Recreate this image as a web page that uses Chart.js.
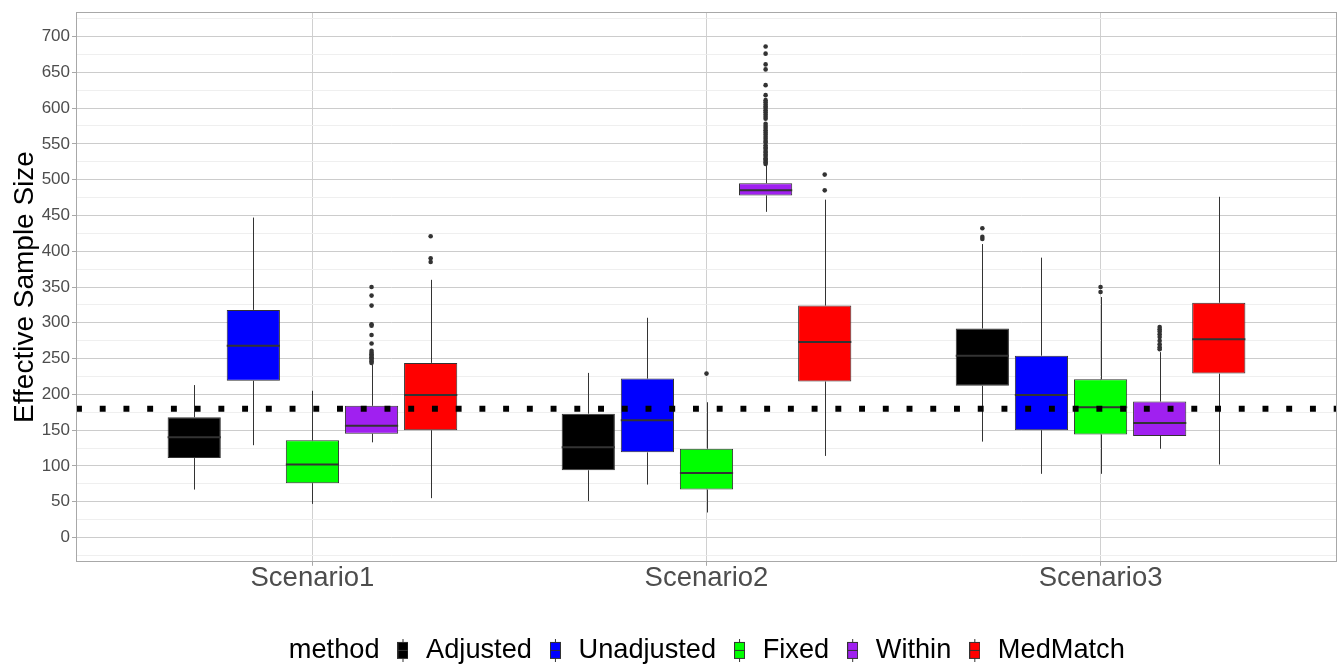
<!DOCTYPE html>
<html>
<head>
<meta charset="utf-8">
<script src="https://cdn.jsdelivr.net/npm/chart.js@4.4.1/dist/chart.umd.min.js"></script>
<style>
  html, body { margin: 0; padding: 0; background: #fff; }
</style>
</head>
<body>
<canvas id="chart" width="1343" height="666"></canvas>
<script>
// categories and methods
var scenarios = ['Scenario1', 'Scenario2', 'Scenario3'];
var methods = ['Adjusted', 'Unadjusted', 'Fixed', 'Within', 'MedMatch'];
var methodColors = ['#000000', '#0000ff', '#00ff00', '#a020f0', '#ff0000'];

// box stats per scenario: [lower whisker, q1, median, q3, upper whisker]
var adjusted   = [[67, 111, 140, 168, 213], [51, 94, 126, 173, 230], [134, 212, 254, 292, 410]];
var unadjusted = [[129, 219, 268, 318, 447], [74, 119, 164, 222, 307], [89, 150, 199, 254, 391]];
var fixed      = [[47, 76, 102, 136, 205], [35, 67, 90, 124, 189], [89, 144, 182, 221, 336]];
var within     = [[133, 145, 156, 184, 241], [455, 478, 485, 495, 520], [124, 142, 160, 190, 259]];
var medMatch   = [[55, 150, 199, 244, 360], [114, 218, 273, 324, 472], [102, 229, 277, 328, 476]];

// outliers per scenario
var adjustedOut   = [[], [], [432, 420, 417]];
var unadjustedOut = [[], [], []];
var fixedOut      = [[], [229], [350, 343]];
var withinOut     = [
  [350, 338, 324, 298, 296, 283, 271, 261, 258, 256, 254, 252, 250, 248, 246, 244],
  [686, 676, 661, 654, 632, 618, 611, 608, 605, 602, 600, 597, 594, 591, 588, 585,
   578, 575, 572, 569, 566, 563, 560, 557, 554, 552, 548, 545, 543, 540, 538, 535,
   533, 530, 528, 526, 524, 522],
  [294, 291, 288, 284, 280, 275, 270, 266, 263]
];
var medMatchOut   = [[421, 390, 385], [507, 485], []];

// reference line
var targetSize = 180;

// y ticks (major every 50, minor every 25)
var yTicks = [];
for (var t = -25; t <= 725; t += 25) yTicks.push(t);

var boxStats = [adjusted, unadjusted, fixed, within, medMatch];
var outlierSets = [adjustedOut, unadjustedOut, fixedOut, withinOut, medMatchOut];

var edge = '#333333';

// small boxplot glyph used as legend key
function makeKey(color) {
  var c = document.createElement('canvas');
  c.width = 11; c.height = 23;
  var k = c.getContext('2d');
  k.strokeStyle = '#333333';
  k.lineWidth = 1;
  k.beginPath(); k.moveTo(5.5, 0); k.lineTo(5.5, 23); k.stroke();
  k.fillStyle = color;
  k.fillRect(0, 3, 11, 17);
  k.strokeRect(0.5, 3.5, 10, 16);
  k.beginPath(); k.moveTo(0, 11.5); k.lineTo(11, 11.5); k.stroke();
  return c;
}
var blankKey = document.createElement('canvas');
blankKey.width = 1; blankKey.height = 1;

var datasets = methods.map(function (m, i) {
  return {
    type: 'bar',
    label: m,
    order: 1,
    data: scenarios.map(function (s, j) {
      return { x: j + 1, y: [boxStats[i][j][1], boxStats[i][j][3]] };
    }),
    backgroundColor: methodColors[i],
    borderColor: edge,
    borderWidth: 1,
    borderSkipped: false,
    categoryPercentage: 0.75,
    barPercentage: 0.9
  };
});
datasets.push({
  type: 'line',
  label: 'target',
  order: 0,
  data: [{ x: 0.4, y: targetSize }, { x: 3.6, y: targetSize }],
  borderColor: '#000000',
  borderWidth: 6,
  borderDash: [5.93, 17.8],
  borderCapStyle: 'butt',
  pointRadius: 0
});

// whiskers, medians and outliers on top of each box
var boxParts = {
  id: 'boxParts',
  afterDatasetDraw: function (chart, args) {
    if (args.meta.type !== 'bar') return;
    var ctx = chart.ctx, y = chart.scales.y;
    var stats = boxStats[args.index], outs = outlierSets[args.index];
    args.meta.data.forEach(function (bar, j) {
      var s = stats[j];
      var x = Math.round(bar.x) + 0.5, half = bar.width / 2;
      ctx.save();
      ctx.strokeStyle = edge;
      ctx.lineWidth = 1;
      ctx.beginPath();
      ctx.moveTo(x, y.getPixelForValue(s[3]));
      ctx.lineTo(x, y.getPixelForValue(s[4]));
      ctx.moveTo(x, y.getPixelForValue(s[1]));
      ctx.lineTo(x, y.getPixelForValue(s[0]));
      ctx.stroke();
      ctx.lineWidth = 2;
      var ym = y.getPixelForValue(s[2]);
      ctx.beginPath();
      ctx.moveTo(bar.x - half, ym);
      ctx.lineTo(bar.x + half, ym);
      ctx.stroke();
      ctx.fillStyle = edge;
      outs[j].forEach(function (v) {
        ctx.beginPath();
        ctx.arc(bar.x, y.getPixelForValue(v), 2.3, 0, Math.PI * 2);
        ctx.fill();
      });
      ctx.restore();
    });
  }
};

// panel border and legend nudge
var panel = {
  id: 'panel',
  afterLayout: function (chart) {
    chart.legend.left -= 16;
    chart.legend.right -= 16;
    chart.legend.top += 8;
    chart.legend.bottom += 8;
  },
  afterDraw: function (chart) {
    var a = chart.chartArea, ctx = chart.ctx;
    ctx.save();
    ctx.strokeStyle = '#a8a8a8';
    ctx.lineWidth = 1;
    ctx.strokeRect(Math.round(a.left) + 0.5, Math.round(a.top) + 0.5,
      Math.round(a.right - a.left) - 1, Math.round(a.bottom - a.top) - 1);
    ctx.restore();
  }
};

Chart.defaults.font.family = '"Liberation Sans", Arial, sans-serif';

var ctx = document.getElementById('chart').getContext('2d');
var chart = new Chart(ctx, {
  data: { datasets: datasets },
  plugins: [boxParts, panel],
  options: {
    responsive: false,
    animation: false,
    events: [],
    layout: { padding: { top: 10, right: 6, left: 0, bottom: 0 } },
    scales: {
      x: {
        type: 'linear',
        offset: false,
        min: 0.4,
        max: 3.6,
        afterBuildTicks: function (s) { s.ticks = [1, 2, 3].map(function (v) { return { value: v }; }); },
        afterFit: function (s) { s.height = 53; },
        ticks: {
          autoSkip: false,
          padding: 0,
          color: '#4d4d4d',
          font: { size: 27.5, lineHeight: 0.95 },
          callback: function (v) { return scenarios[v - 1]; }
        },
        grid: { offset: false, color: '#d0d0d0', tickColor: '#a8a8a8', tickLength: 4 },
        border: { display: false }
      },
      y: {
        type: 'linear',
        min: -33.9,
        max: 733.9,
        afterBuildTicks: function (s) { s.ticks = yTicks.map(function (v) { return { value: v }; }); },
        afterFit: function (s) { s.width = 76; },
        ticks: {
          autoSkip: false,
          padding: 2,
          color: '#4d4d4d',
          font: { size: 17 },
          callback: function (v) { return (v % 50 === 0 && v >= 0 && v <= 700) ? v : ''; }
        },
        grid: {
          color: function (c) { return c.tick && c.tick.value % 50 === 0 ? '#cccccc' : '#efefef'; },
          tickColor: function (c) { return c.tick && c.tick.value % 50 === 0 ? '#a8a8a8' : 'rgba(0,0,0,0)'; },
          tickLength: 4
        },
        border: { display: false },
        title: {
          display: true,
          text: 'Effective Sample Size',
          color: '#000000',
          font: { size: 28 },
          padding: { top: 8, bottom: 0 }
        }
      }
    },
    plugins: {
      legend: {
        position: 'bottom',
        fullSize: false,
        onClick: null,
        labels: {
          usePointStyle: true,
          pointStyleWidth: 19,
          padding: 14,
          color: '#000000',
          font: { size: 27.2 },
          generateLabels: function () {
            var items = [{ text: 'method', pointStyle: blankKey, fillStyle: 'rgba(0,0,0,0)',
              strokeStyle: 'rgba(0,0,0,0)', lineWidth: 0, hidden: false, datasetIndex: -1 }];
            methods.forEach(function (m, i) {
              items.push({ text: m, pointStyle: makeKey(methodColors[i]), fillStyle: methodColors[i],
                strokeStyle: edge, lineWidth: 0, hidden: false, datasetIndex: i });
            });
            return items;
          }
        }
      },
      tooltip: { enabled: false }
    }
  }
});
</script>
</body>
</html>
